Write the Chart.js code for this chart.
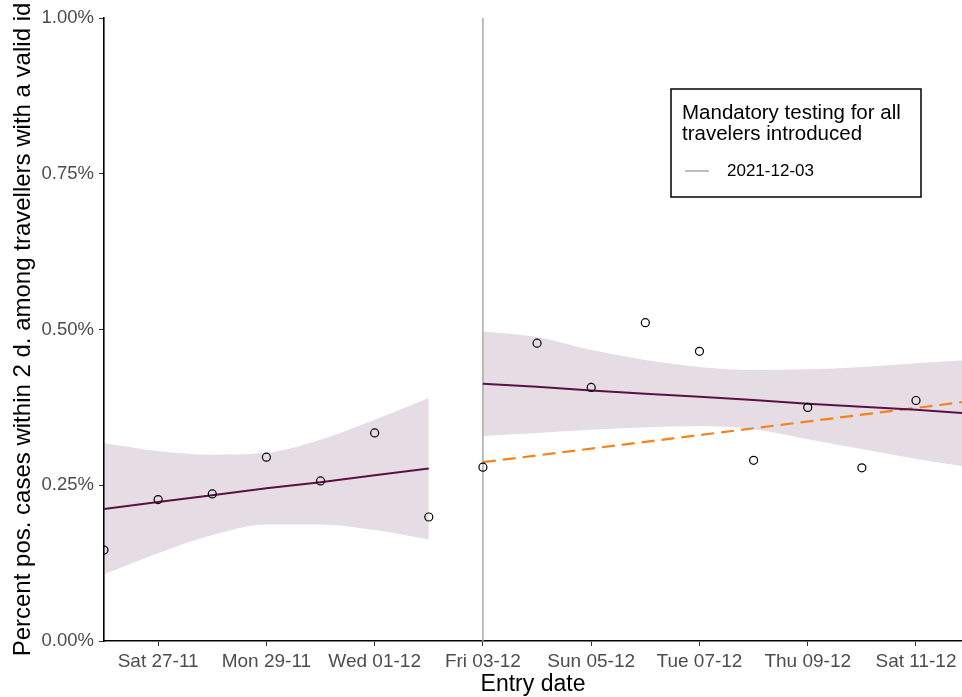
<!DOCTYPE html>
<html>
<head>
<meta charset="utf-8">
<script src="https://cdn.jsdelivr.net/npm/chart.js@4.4.1/dist/chart.umd.min.js"></script>
<style>
  html, body { margin: 0; padding: 0; background: #ffffff; }
  #wrap { position: relative; width: 962px; height: 697px; }
</style>
</head>
<body>
<div id="wrap"><canvas id="chart" width="962" height="697"></canvas></div>
<script>
// Entry dates, one per day (index 0 = Fri 26-11)
const dayLabels = ['Fri 26-11', 'Sat 27-11', 'Sun 28-11', 'Mon 29-11', 'Tue 30-11', 'Wed 01-12',
  'Thu 02-12', 'Fri 03-12', 'Sat 04-12', 'Sun 05-12', 'Mon 06-12', 'Tue 07-12', 'Wed 08-12',
  'Thu 09-12', 'Fri 10-12', 'Sat 11-12', 'Sun 12-12'];
const tickDays = [1, 3, 5, 7, 9, 11, 13, 15];
const yTicks = [0, 0.25, 0.5, 0.75, 1.0];

// Observed share of positive cases (%) per entry day
const observedDays = [0, 1, 2, 3, 4, 5, 6, 7, 8, 9, 10, 11, 12, 13, 14, 15];
const positivePct = [0.146, 0.227, 0.236, 0.295, 0.257, 0.334, 0.199,
  0.279, 0.478, 0.407, 0.511, 0.465, 0.290, 0.375, 0.278, 0.386];

// Linear trend and 95% band before the testing rule
const beforeDays = [0, 1, 2, 3, 4, 5, 6];
const beforeFit = [0.212, 0.223, 0.234, 0.245, 0.255, 0.266, 0.277];
const beforeUpper = [0.318, 0.305, 0.299, 0.302, 0.323, 0.355, 0.390];
const beforeLower = [0.107, 0.141, 0.170, 0.187, 0.187, 0.178, 0.163];

// Linear trend and 95% band after the testing rule
const afterDays = [7, 8, 9, 10, 11, 12, 13, 14, 15, 16];
const afterFit = [0.413, 0.408, 0.402, 0.397, 0.392, 0.387, 0.381, 0.376, 0.371, 0.365];
const afterUpper = [0.497, 0.488, 0.467, 0.451, 0.440, 0.435, 0.436, 0.440, 0.446, 0.451];
const afterLower = [0.329, 0.334, 0.339, 0.343, 0.345, 0.340, 0.324, 0.308, 0.292, 0.279];

// Continuation of the pre-rule trend level (dashed)
const projDays = [7, 16];
const projPct = [0.287, 0.385];

// Date the testing rule took effect
const ruleDay = 7;
const ruleLabel = '2021-12-03';
const legendTitle = ['Mandatory testing for all', 'travelers introduced'];

const FONT = '"Liberation Sans", Arial, sans-serif';
const PURPLE = '#5a1149';
const BAND = 'rgba(120, 70, 110, 0.19)';
const ORANGE = '#f5821f';
const GREY = '#a8a8a8';

const pts = (xs, ys) => xs.map((x, i) => ({ x: x, y: ys[i] }));

const legendBox = {
  id: 'legendBox',
  afterDraw(chart) {
    const ctx = chart.ctx;
    const x0 = 671, y0 = 89, w = 250, h = 108;
    ctx.save();
    ctx.fillStyle = '#ffffff';
    ctx.fillRect(x0, y0, w, h);
    ctx.strokeStyle = '#000000';
    ctx.lineWidth = 1.5;
    ctx.strokeRect(x0, y0, w, h);
    ctx.fillStyle = '#000000';
    ctx.textAlign = 'left';
    ctx.textBaseline = 'alphabetic';
    ctx.font = '20.5px ' + FONT;
    ctx.fillText(legendTitle[0], x0 + 11, y0 + 30);
    ctx.fillText(legendTitle[1], x0 + 11, y0 + 51);
    ctx.strokeStyle = GREY;
    ctx.lineWidth = 1.5;
    ctx.beginPath();
    ctx.moveTo(x0 + 14, y0 + 82);
    ctx.lineTo(x0 + 38, y0 + 82);
    ctx.stroke();
    ctx.font = '17px ' + FONT;
    ctx.textBaseline = 'middle';
    ctx.fillText(ruleLabel, x0 + 56, y0 + 82);
    ctx.restore();
  }
};

new Chart(document.getElementById('chart'), {
  type: 'line',
  data: {
    datasets: [
      { data: pts(observedDays, positivePct), showLine: false, pointRadius: 4, pointHoverRadius: 4,
        pointBorderColor: '#000000', pointBackgroundColor: 'rgba(255,255,255,0)', pointBorderWidth: 1.2,
        order: 0, clip: 0 },
      { data: pts(beforeDays, beforeFit), borderColor: PURPLE, borderWidth: 2, pointRadius: 0, order: 1, clip: 0 },
      { data: pts(afterDays, afterFit), borderColor: PURPLE, borderWidth: 2, pointRadius: 0, order: 1, clip: 0 },
      { data: pts(projDays, projPct), borderColor: ORANGE, borderWidth: 2.2, borderDash: [13, 7],
        pointRadius: 0, order: 2, clip: 0 },
      { data: pts([ruleDay, ruleDay], [0, 1]), borderColor: GREY, borderWidth: 1.5, pointRadius: 0, order: 3, clip: 0 },
      { data: pts(beforeDays, beforeUpper), borderWidth: 0, pointRadius: 0, fill: false, order: 5,
        borderColor: 'rgba(0,0,0,0)', cubicInterpolationMode: 'monotone', clip: 0 },
      { data: pts(beforeDays, beforeLower), borderWidth: 0, pointRadius: 0, fill: '-1', order: 5,
        borderColor: 'rgba(0,0,0,0)', backgroundColor: BAND, cubicInterpolationMode: 'monotone', clip: 0 },
      { data: pts(afterDays, afterUpper), borderWidth: 0, pointRadius: 0, fill: false, order: 5,
        borderColor: 'rgba(0,0,0,0)', cubicInterpolationMode: 'monotone', clip: 0 },
      { data: pts(afterDays, afterLower), borderWidth: 0, pointRadius: 0, fill: '-1', order: 5,
        borderColor: 'rgba(0,0,0,0)', backgroundColor: BAND, cubicInterpolationMode: 'monotone', clip: 0 }
    ]
  },
  options: {
    responsive: false,
    animation: false,
    events: [],
    layout: { autoPadding: false, padding: { top: 18, right: 0, bottom: 0, left: 0 } },
    plugins: { legend: { display: false }, tooltip: { enabled: false } },
    scales: {
      x: {
        type: 'linear',
        min: 0,
        max: 15.85,
        afterBuildTicks: (scale) => { scale.ticks = tickDays.map(v => ({ value: v })); },
        afterFit: (scale) => { scale.height = 56; scale.paddingLeft = 0; scale.paddingRight = 0; },
        ticks: {
          autoSkip: false, maxRotation: 0, padding: 4, color: '#4d4d4d',
          font: { family: FONT, size: 19 },
          callback: (v) => dayLabels[v]
        },
        grid: { drawOnChartArea: false, drawTicks: true, tickLength: 5, color: '#333333', lineWidth: 1 },
        border: { display: true, color: '#000000', width: 1.6 },
        title: { display: true, text: 'Entry date', color: '#000000', padding: { top: 0, bottom: 0 },
          font: { family: FONT, size: 23, lineHeight: 1.1 } }
      },
      y: {
        min: 0,
        max: 1,
        afterBuildTicks: (scale) => { scale.ticks = yTicks.map(v => ({ value: v })); },
        afterFit: (scale) => { scale.width = 104; scale.paddingTop = 0; scale.paddingBottom = 0; },
        ticks: {
          padding: 5, color: '#4d4d4d', font: { family: FONT, size: 18.5 },
          callback: (v) => v.toFixed(2) + '%'
        },
        grid: { drawOnChartArea: false, drawTicks: true, tickLength: 5, color: '#333333', lineWidth: 1 },
        border: { display: true, color: '#000000', width: 1.6 },
        title: { display: true, text: 'Percent pos. cases within 2 d. among travellers with a valid id',
          color: '#000000', padding: { top: 10, bottom: 0 },
          font: { family: FONT, size: 24, lineHeight: 1.1 } }
      }
    }
  },
  plugins: [legendBox]
});
</script>
</body>
</html>
